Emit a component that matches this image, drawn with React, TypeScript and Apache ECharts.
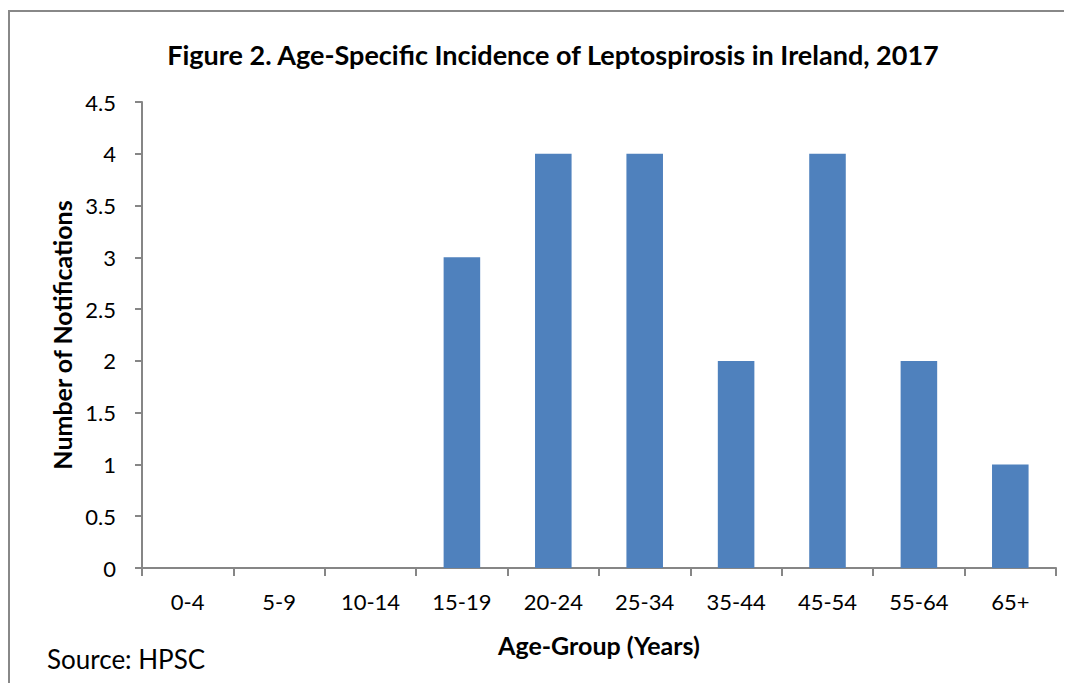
import React, { useEffect, useRef } from "react";
import * as echarts from "echarts";

const categories = ["0-4", "5-9", "10-14", "15-19", "20-24", "25-34", "35-44", "45-54", "55-64", "65+"];
const notifications = [0, 0, 0, 3, 4, 4, 2, 4, 2, 1];
const titleText = "Figure 2. Age-Specific Incidence of Leptospirosis in Ireland, 2017";
const sourceText = "Source: HPSC";
const FONT = "Lato, 'Noto Sans', sans-serif";

export default function App() {
  const ref = useRef<HTMLDivElement>(null);
  useEffect(() => {
    if (!ref.current) return;
    const chart = echarts.init(ref.current, undefined, { renderer: "svg" });
    chart.setOption({
      animation: false,
      textStyle: { fontFamily: FONT },
      title: {
        text: titleText,
        left: 540,
        top: 28,
        textAlign: "center",
        textStyle: { fontSize: 27, fontWeight: "bold", color: "#000", fontFamily: FONT },
      },
      graphic: [
        {
          type: "rect",
          shape: { x: 1, y: 3, width: 1200, height: 900 },
          style: { fill: "none", stroke: "#888", lineWidth: 2 },
        },
        {
          type: "text",
          left: 39,
          top: 638,
          style: { text: sourceText, fontSize: 26, fill: "#000", fontFamily: FONT },
        },
      ],
      grid: { left: 134, right: 16, top: 94, bottom: 115 },
      xAxis: {
        type: "category",
        data: categories,
        name: "Age-Group (Years)",
        nameLocation: "middle",
        nameGap: 64,
        nameTextStyle: { fontSize: 25, fontWeight: "bold", color: "#000", fontFamily: FONT },
        axisLine: { lineStyle: { color: "#868686", width: 2 } },
        axisTick: { show: true, length: 8, lineStyle: { color: "#868686", width: 2 }, alignWithLabel: false },
        axisLabel: { fontSize: 22, color: "#000", margin: 22, fontFamily: FONT },
      },
      yAxis: {
        type: "value",
        min: 0,
        max: 4.5,
        interval: 0.5,
        name: "Number of Notifications",
        nameLocation: "middle",
        nameGap: 68,
        nameTextStyle: { fontSize: 25, fontWeight: "bold", color: "#000", fontFamily: FONT },
        axisLine: { show: true, lineStyle: { color: "#868686", width: 2 } },
        axisTick: { show: true, length: 7, lineStyle: { color: "#868686", width: 2 } },
        axisLabel: { fontSize: 22, color: "#000", margin: 26, fontFamily: FONT },
        splitLine: { show: false },
      },
      series: [
        {
          type: "bar",
          data: notifications,
          barWidth: "40%",
          itemStyle: { color: "#4F81BD" },
        },
      ],
    });
    return () => chart.dispose();
  }, []);
  return <div ref={ref} style={{ width: 1064, height: 675 }} />;
}
